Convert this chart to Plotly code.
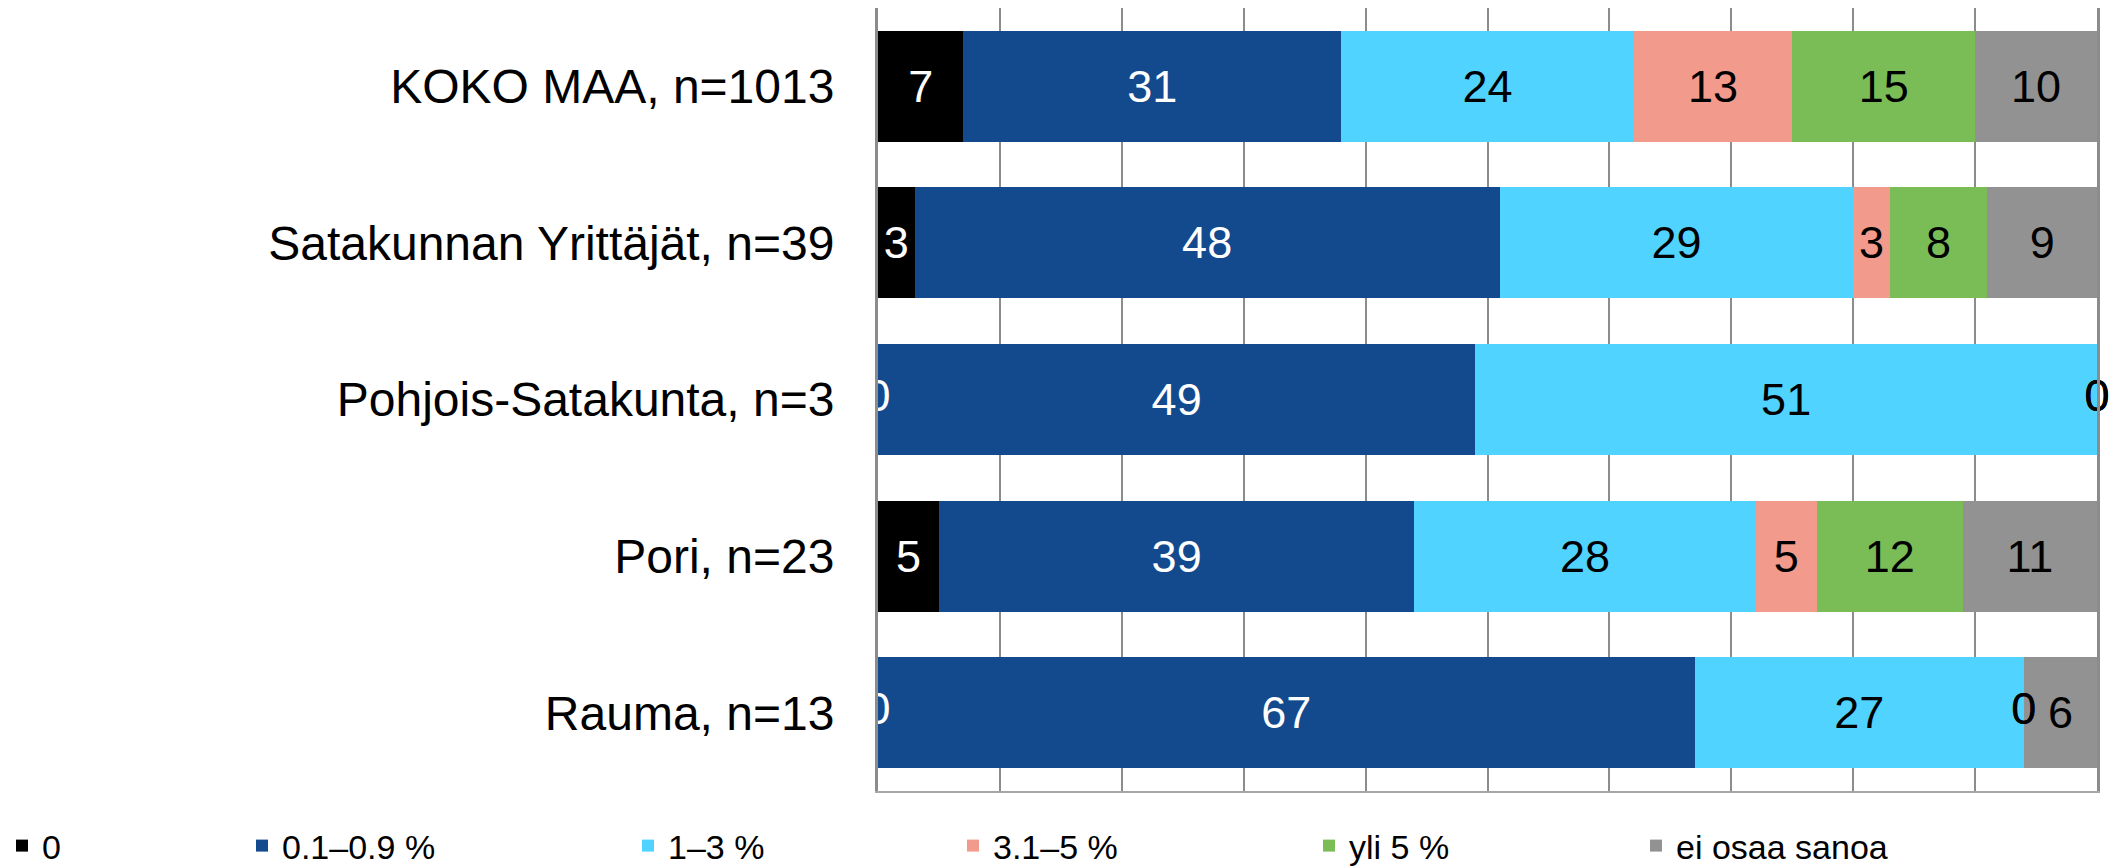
import plotly.graph_objects as go

rows = ['KOKO MAA, n=1013', 'Satakunnan Yrittäjät, n=39', 'Pohjois-Satakunta, n=3',
        'Pori, n=23', 'Rauma, n=13']
series = ['0', '0.1–0.9 %', '1–3 %', '3.1–5 %', 'yli 5 %', 'ei osaa sanoa']

v_zero = [7, 3, 0, 5, 0]
v_01_09 = [31, 48, 49, 39, 67]
v_1_3 = [24, 29, 51, 28, 27]
v_31_5 = [13, 3, 0, 5, 0]
v_yli5 = [15, 8, 0, 12, 0]
v_eos = [10, 9, 0, 11, 6]

values = [v_zero, v_01_09, v_1_3, v_31_5, v_yli5, v_eos]
colors = ['#000000', '#134a8e', '#50d3ff', '#f29a8b', '#7abd56', '#929292']
text_colors = ['white', 'white', 'black', 'black', 'black', 'black']
# left edge of each legend entry, px in figure coords
legend_px = [-6, 234, 620, 945, 1301, 1628]

# page body has an 8px margin, so the figure is a bit smaller than the window
W, H = 2118, 859
L, R, T, B = 870, 29, 0, 76
plot_w = W - L - R
plot_h = H - T - B

FONT = 'Liberation Sans, Arial, sans-serif'

fig = go.Figure()
for i, name in enumerate(series):
    lg = 'legend' if i == 0 else 'legend{}'.format(i + 1)
    fig.add_trace(go.Bar(
        y=rows, x=values[i], name=name, orientation='h',
        marker=dict(color=colors[i], line=dict(width=0)),
        text=[str(v) if v else '' for v in values[i]],
        textposition='inside', insidetextanchor='middle', constraintext='none',
        textfont=dict(color=text_colors[i], size=45, family=FONT),
        hoverinfo='skip', legend=lg,
    ))

# zero-valued segments still get a "0" label at their position
zx, zy, zc = [], [], []
for r, row in enumerate(rows):
    acc = 0
    for i in range(len(series)):
        v = values[i][r]
        if v == 0:
            zx.append(acc)
            zy.append(row)
            zc.append(text_colors[i])
        acc += v
fig.add_trace(go.Scatter(
    x=zx, y=zy, mode='text', text=['0'] * len(zx),
    textfont=dict(color=zc, size=45, family=FONT),
    showlegend=False, hoverinfo='skip', cliponaxis=False,
))

legends = {}
for i in range(len(series)):
    key = 'legend' if i == 0 else 'legend{}'.format(i + 1)
    legends[key] = dict(
        x=(legend_px[i] - L) / plot_w, xanchor='left',
        y=-55 / plot_h, yanchor='middle', orientation='h',
        font=dict(size=34, family=FONT, color='black'),
        bgcolor='rgba(0,0,0,0)', borderwidth=0,
    )

fig.update_layout(
    width=W, height=H,
    margin=dict(l=L, r=R, t=T, b=B, autoexpand=False),
    barmode='stack', bargap=0.29,
    plot_bgcolor='white', paper_bgcolor='white',
    font=dict(family=FONT, color='black'),
    **legends,
)
fig.update_xaxes(range=[0, 100], dtick=10, showticklabels=False,
                 showgrid=True, gridcolor='#8c8c8c', gridwidth=2,
                 showline=True, linecolor='#a6a6a6', linewidth=2, mirror=True,
                 zeroline=False, fixedrange=True)
fig.update_yaxes(autorange='reversed', showgrid=False,
                 showline=True, linecolor='#8c8c8c', linewidth=3, mirror=True,
                 tickfont=dict(size=48, family=FONT, color='black'),
                 ticklabelstandoff=31, fixedrange=True)

fig.write_html('out.html')
